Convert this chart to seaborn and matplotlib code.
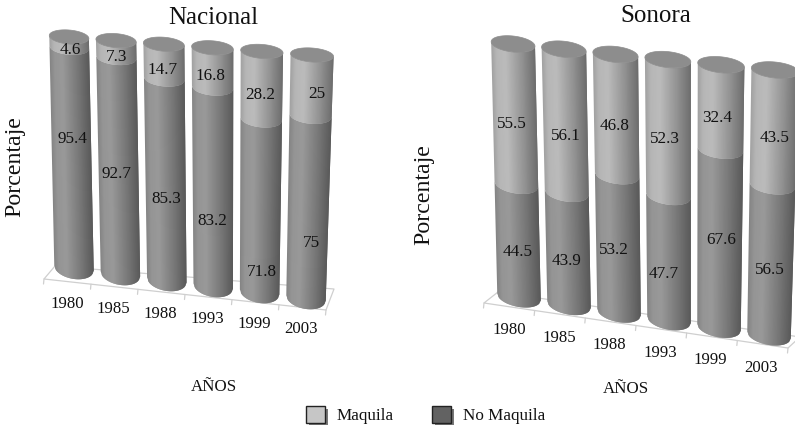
import numpy as np
import matplotlib
matplotlib.use("Agg")
import matplotlib.pyplot as plt
import matplotlib.patheffects as pe
import seaborn as sns
from matplotlib.collections import PolyCollection
from matplotlib.patches import Patch
from matplotlib.transforms import Affine2D

YEARS = ["1980", "1985", "1988", "1993", "1999", "2003"]
NAC_MAQUILA = [4.6, 7.3, 14.7, 16.8, 28.2, 25]
NAC_NO_MAQUILA = [95.4, 92.7, 85.3, 83.2, 71.8, 75]
SON_MAQUILA = [55.5, 56.1, 46.8, 52.3, 32.4, 43.5]
SON_NO_MAQUILA = [44.5, 43.9, 53.2, 47.7, 67.6, 56.5]

W, H = 795, 428
SERIF = "Liberation Serif"

# posiciones en pixeles de la imagen
NAC_MAQ_POS = [(70, 50), (117, 57), (163, 70), (210, 76), (260, 95), (317, 94)]
NAC_NO_POS = [(72, 139), (117, 174), (166, 199), (212, 221), (262, 272), (311, 243)]
SON_MAQ_POS = [(512, 124), (566, 136), (615, 126), (665, 139), (717, 118), (775, 138)]
SON_NO_POS = [(518, 252), (567, 261), (614, 250), (664, 274), (721, 240), (770, 270)]

sns.set_theme(style="white")
plt.rcParams["font.family"] = [SERIF, "DejaVu Serif"]

fig = plt.figure(figsize=(W / 100, H / 100), dpi=100)
to_px = Affine2D().scale(1, -1).translate(0, H)


def project(m, x, y):
    # interpolacion bilineal entre las cuatro esquinas: (0,0), (5,0), (0,100), (5,100)
    fx, fy = x / 5, y / 100
    p00, p50, p0t, p5t = m
    px = (1 - fy) * ((1 - fx) * p00[0] + fx * p50[0]) + fy * ((1 - fx) * p0t[0] + fx * p5t[0])
    py = (1 - fy) * ((1 - fx) * p00[1] + fx * p50[1]) + fy * ((1 - fx) * p0t[1] + fx * p5t[1])
    # la perspectiva arriba no es del todo lineal
    px -= 2.5 * fy * 4 * fx * (1 - fx)
    return px, py


def shade(u, base):
    s = np.interp(u, [-1, -0.75, -0.35, 0.4, 1], [0.86, 0.97, 1.0, 0.78, 0.58])
    g = np.clip(base * s, 0, 1)
    return (g, g, g)


def segment(ax, m, center, width, y0, y1, base, ry0, ry1, z):
    # un tramo del cilindro, hecho de tiras que se tapan de izquierda a derecha
    edges = np.linspace(-1, 1, 41)
    verts, cols = [], []
    ry = lambda y: np.interp(y, [0, 100], [ry0, ry1])
    for i in range(len(edges) - 1):
        a, b = edges[i], edges[min(i + 2, len(edges) - 1)]
        xa, xb = center + a * width / 2, center + b * width / 2
        pa0, pb0 = project(m, xa, y0), project(m, xb, y0)
        pa1, pb1 = project(m, xa, y1), project(m, xb, y1)
        da, db = np.sqrt(1 - a * a), np.sqrt(1 - b * b)
        verts.append([
            (pa0[0], pa0[1] + ry(y0) * da), (pb0[0], pb0[1] + ry(y0) * db),
            (pb1[0], pb1[1] + ry(y1) * db), (pa1[0], pa1[1] + ry(y1) * da),
        ])
        cols.append(shade((edges[i] + edges[i + 1]) / 2, base))
    ax.add_collection(PolyCollection(verts, facecolors=cols, edgecolors="none", linewidths=0,
                                     transform=to_px, zorder=z, clip_on=False), autolim=False)


def cap(ax, m, center, width, y, ry, z):
    t = np.linspace(0, 2 * np.pi, 80)
    pts = []
    for a in t:
        px = project(m, center + np.cos(a) * width / 2, y)
        pts.append((px[0], px[1] + ry * np.sin(a)))
    ax.fill(*zip(*pts), color="#8d8d8d", lw=0.5, transform=to_px, zorder=z, clip_on=False)


def panel(maquila, no_maquila, corners, width, ry0, ry1, floor, ticks_n, maq_pos, no_pos,
          title, title_xy, ylab_xy, xlab_xy, lab0, lab1):
    ax = fig.add_axes([0, 0, 1, 1])
    total = [a + b for a, b in zip(maquila, no_maquila)]
    sns.barplot(x=YEARS, y=total, color="#bababa", saturation=1, errorbar=None, width=width, ax=ax)
    sns.barplot(x=YEARS, y=no_maquila, color="#999999", saturation=1, errorbar=None, width=width, ax=ax)
    ax.axis("off")

    # piso
    fl, fr, br, bl = floor
    ax.plot([bl[0], fl[0], fr[0], br[0], bl[0]], [bl[1], fl[1], fr[1], br[1], bl[1]],
            color="#cfcfcf", lw=0.9, transform=to_px, zorder=1, clip_on=False)
    for f in np.linspace(0, 1, ticks_n):
        tx, ty = fl[0] + f * (fr[0] - fl[0]), fl[1] + f * (fr[1] - fl[1])
        ax.plot([tx, tx - 0.5], [ty, ty + 5], color="#cfcfcf", lw=0.9, transform=to_px, zorder=1, clip_on=False)

    n = len(YEARS)
    tall, low = ax.patches[:n], ax.patches[n:2 * n]
    for i, (p_all, p_low) in enumerate(zip(tall, low)):
        c = p_all.get_x() + p_all.get_width() / 2
        w = p_all.get_width()
        z = 3 + i
        segment(ax, m=corners, center=c, width=w, y0=0, y1=p_low.get_height(), base=0.60,
                ry0=ry0, ry1=ry1, z=z)
        segment(ax, m=corners, center=c, width=w, y0=p_low.get_height(), y1=p_all.get_height(), base=0.735,
                ry0=ry0, ry1=ry1, z=z + 0.1)
        cap(ax, corners, c, w, p_all.get_height(), ry1, z + 0.2)
        p_all.set_visible(False)
        p_low.set_visible(False)

    for vals, pos in ((maquila, maq_pos), (no_maquila, no_pos)):
        for v, (x, y) in zip(vals, pos):
            ax.text(x, y, f"{v:g}", transform=to_px, ha="center", va="center", fontsize=12.3,
                    color="#111111", zorder=20)

    xs = np.linspace(lab0[0], lab1[0], n)
    ys = np.linspace(lab0[1], lab1[1], n)
    for yr, x, y in zip(YEARS, xs, ys):
        ax.text(x, y, yr, transform=to_px, ha="center", va="center", fontsize=12.1, color="#111111")

    ax.text(*title_xy, title, transform=to_px, ha="center", va="center", fontsize=18, color="#111111")
    ax.text(*ylab_xy, "Porcentaje", transform=to_px, ha="center", va="center", rotation=90,
            fontsize=17.2, color="#111111")
    ax.text(*xlab_xy, "AÑOS", transform=to_px, ha="center", va="center", fontsize=12.2, color="#111111")


panel(NAC_MAQUILA, NAC_NO_MAQUILA,
      [(74, 268), (306, 298), (69, 37), (312, 55)], 0.85, 11, 7,
      [(44, 279), (326, 310), (334, 289), (55, 266)], 7, NAC_MAQ_POS, NAC_NO_POS,
      "Nacional", (213, 18), (15, 167), (214, 387), (67, 304), (301, 329))

panel(SON_MAQUILA, SON_NO_MAQUILA,
      [(519, 297), (769, 335), (513, 44), (775, 70)], 0.87, 10, 8,
      [(484, 303), (788, 348), (800, 337), (498, 292)], 7, SON_MAQ_POS, SON_NO_POS,
      "Sonora", (656, 16), (424, 195), (626, 389), (509, 330), (761, 368))

shadow = [pe.withSimplePatchShadow(offset=(2, -2), shadow_rgbFace="#777777", alpha=1.0)]
handles = [
    Patch(facecolor="#c6c6c6", edgecolor="#222222", lw=1, label="Maquila", path_effects=shadow),
    Patch(facecolor="#626262", edgecolor="#222222", lw=1, label="No Maquila", path_effects=shadow),
]
fig.legend(handles=handles, loc="lower left", bbox_to_anchor=(306 / W, 1 - 424 / H), ncols=2, frameon=False,
           fontsize=12.3, handlelength=1.1, handleheight=1.15, handletextpad=0.7, columnspacing=2.25,
           borderpad=0, borderaxespad=0, labelcolor="#111111")

fig.savefig("out.png", dpi=100)
